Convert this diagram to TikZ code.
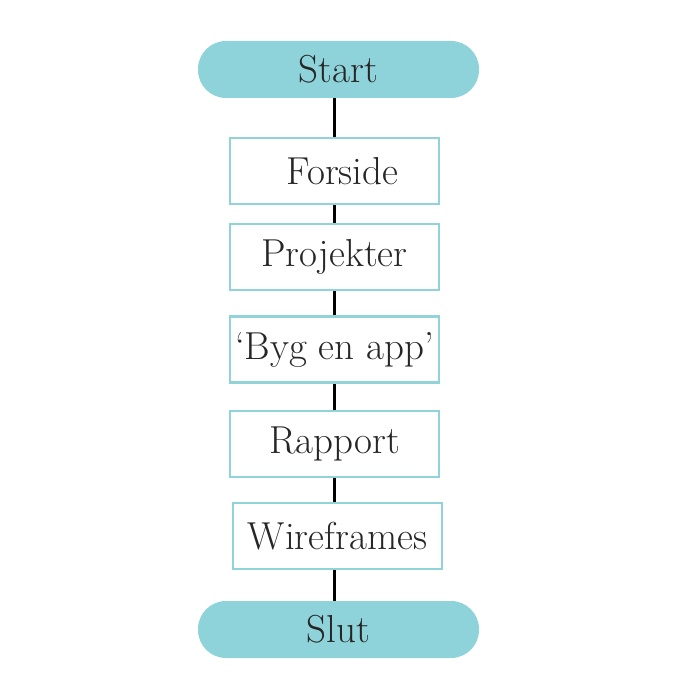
\documentclass[tikz,border=0pt]{standalone}
\usetikzlibrary{positioning}
\definecolor{terminal_fill_colour}{HTML}{8FD3DA}
\definecolor{page_border_colour}{HTML}{92D3D9}
\tikzstyle{terminal_node} =[fill=terminal_fill_colour,rounded corners=28pt,minimum width=281pt,minimum height=57pt,font=\fontsize{39}{44}\selectfont,text=black!85]
\tikzstyle{page_node} =[draw=page_border_colour,line width=2.5pt,fill=white,minimum width=209pt,minimum height=66pt,font=\fontsize{39}{44}\selectfont,text=black!85]
\tikzstyle{flow_line} =[line width=2.5pt,black]

\begin{document}
\begin{tikzpicture}[x=1pt,y=-1pt]

    \useasboundingbox (0,0) rectangle (700,700);

    % Terminals
    \node[terminal_node](start_terminal) at (338.5,69.5){Start};
    \node[terminal_node](slut_terminal) at (338.5,629.5){Slut};

    % Pages
    \node[page_node](forside_page) at (334.5,171){\hspace{16pt}Forside};
    \node[page_node](projekter_page) at (334.5,257){Projekter};
    \node[page_node](byg_en_app_page) at (334.5,349.5){`Byg en app'};
    \node[page_node](rapport_page) at (334.5,444){Rapport};
    \node[page_node](wireframes_page) at (337.5,536){Wireframes};

    % Connections
    \draw[flow_line] (start_terminal.south -| forside_page) -- (forside_page.north);
    \draw[flow_line] (forside_page) -- (projekter_page);
    \draw[flow_line] (projekter_page) -- (byg_en_app_page);
    \draw[flow_line] (byg_en_app_page) -- (rapport_page);
    \draw[flow_line] (rapport_page.south) -- (wireframes_page.north -| rapport_page);
    \draw[flow_line] (wireframes_page.south -| rapport_page) -- (slut_terminal.north -| rapport_page);

\end{tikzpicture}
\end{document}
